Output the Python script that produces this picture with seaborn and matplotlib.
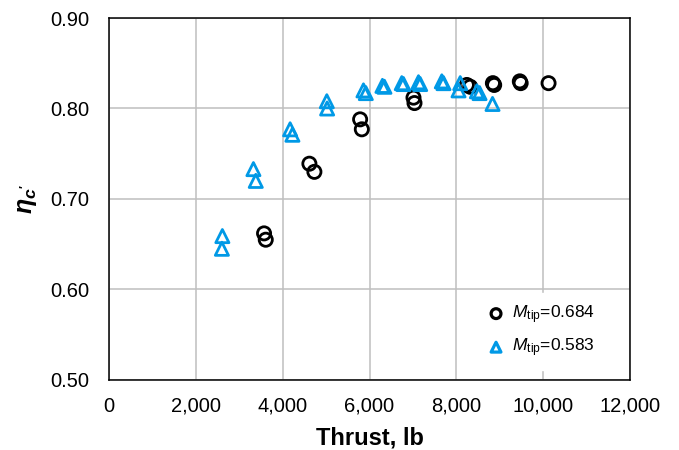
import matplotlib
matplotlib.use("Agg")
import matplotlib.pyplot as plt
import matplotlib.ticker as mticker
import seaborn as sns
import pandas as pd

# Data
thrust_684 = [3571, 3610, 4615, 4730, 5783, 5822, 7012, 7035, 8240, 8318,
              8840, 8870, 9460, 9480, 10122]
eta_684 = [0.662, 0.655, 0.739, 0.730, 0.788, 0.777, 0.812, 0.806, 0.826, 0.824,
           0.828, 0.826, 0.830, 0.828, 0.828]
thrust_583 = [2611, 2600, 3326, 3380, 4171, 4224, 5016, 5023, 5860, 5914,
              6297, 6343, 6742, 6781, 7127, 7166, 7664, 7703, 8088, 8049,
              8472, 8533, 8832]
eta_583 = [0.659, 0.645, 0.733, 0.720, 0.777, 0.771, 0.808, 0.800, 0.820, 0.817,
           0.825, 0.824, 0.828, 0.827, 0.829, 0.827, 0.830, 0.828, 0.828, 0.820,
           0.819, 0.817, 0.805]
labels = [r"$\mathsf{M}_{\mathrm{tip}}$=0.684", r"$\mathsf{M}_{\mathrm{tip}}$=0.583"]
colors = ["#000000", "#0099e6"]
x_ticks = [0, 2000, 4000, 6000, 8000, 10000, 12000]
y_ticks = [0.50, 0.60, 0.70, 0.80, 0.90]

sns.set_style("white")
plt.rcParams["font.family"] = ["Liberation Sans", "DejaVu Sans"]
plt.rcParams["text.color"] = "black"
plt.rcParams["axes.labelcolor"] = "black"
plt.rcParams["xtick.color"] = "black"
plt.rcParams["ytick.color"] = "black"
plt.rcParams["mathtext.fontset"] = "custom"
plt.rcParams["mathtext.rm"] = "Liberation Sans"
plt.rcParams["mathtext.it"] = "Liberation Sans:italic:bold"
plt.rcParams["mathtext.sf"] = "Liberation Sans:italic"
plt.rcParams["mathtext.bf"] = "Liberation Sans:bold"

df1 = pd.DataFrame({"x": thrust_684, "y": eta_684})
df2 = pd.DataFrame({"x": thrust_583, "y": eta_583})

fig = plt.figure(figsize=(6.79, 4.5), dpi=100)
ax = fig.add_axes([0.1605, 0.1556, 0.7675, 0.8044])

sns.scatterplot(data=df1, x="x", y="y", ax=ax, marker="o", s=90,
                facecolors="none", edgecolor=colors[0], linewidth=2.0,
                label=labels[0], zorder=3)
sns.scatterplot(data=df2, x="x", y="y", ax=ax, marker="^", s=90,
                facecolors="none", edgecolor=colors[1], linewidth=2.0,
                label=labels[1], zorder=3)

ax.set_xlim(0, 12000)
ax.set_ylim(0.50, 0.90)
ax.set_xticks(x_ticks)
ax.set_yticks(y_ticks)
ax.xaxis.set_major_formatter(mticker.FuncFormatter(lambda v, p: f"{int(v):,}"))
ax.yaxis.set_major_formatter(mticker.FormatStrFormatter("%.2f"))
ax.tick_params(axis="both", length=0, labelsize=14.5, labelcolor="black")
ax.tick_params(axis="x", pad=12)
ax.tick_params(axis="y", pad=14)
ax.grid(True, color="#bfbfbf", linewidth=1.1)
ax.set_axisbelow(True)
for sp in ax.spines.values():
    sp.set_visible(True)
    sp.set_color("black")
    sp.set_linewidth(1.1)

ax.set_xlabel("Thrust, lb", fontsize=17, fontweight="bold", labelpad=8,
              color="black")
ax.set_ylabel(r"$\eta_{c\mathbf{'}}$", fontsize=18, labelpad=8, color="black")

leg = ax.legend(loc="lower right", frameon=True, fontsize=12.5,
                handlelength=1.0, handletextpad=0.4, borderpad=0.6,
                labelspacing=0.63, borderaxespad=0,
                bbox_to_anchor=(0.952, 0.028))
leg.get_frame().set_facecolor("white")
leg.get_frame().set_edgecolor("white")
leg.get_frame().set_alpha(1)
leg.get_frame().set_boxstyle("square", pad=0)
for t in leg.get_texts():
    t.set_color("black")
for h in leg.legend_handles:
    h.set_sizes([50])
    h.set_linewidth(2.3)

fig.savefig("out.png", dpi=100)
